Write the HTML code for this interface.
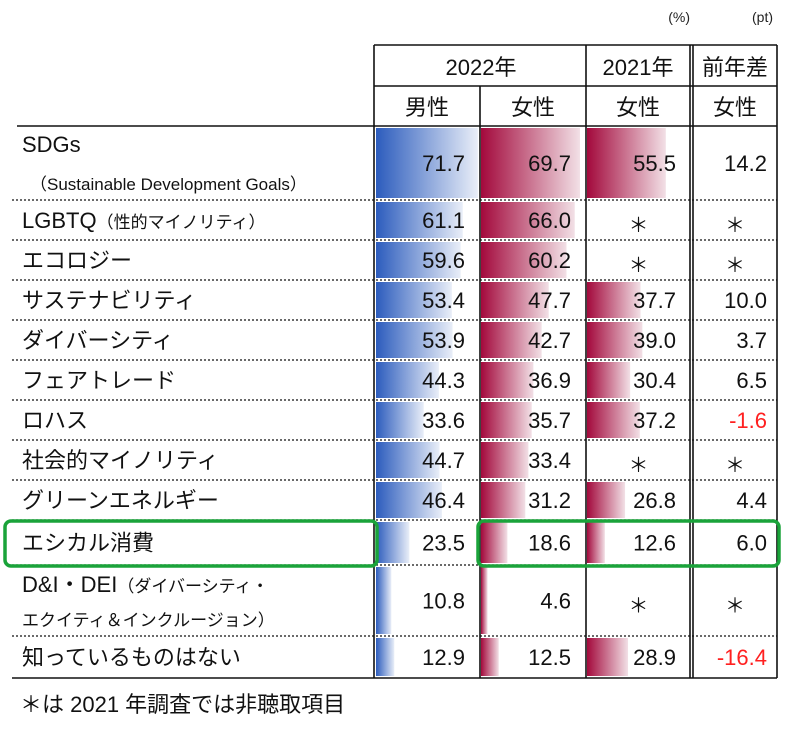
<!DOCTYPE html>
<html><head><meta charset="utf-8"><style>
html,body{margin:0;padding:0;background:#fff;width:800px;height:739px;overflow:hidden}
svg{display:block;font-family:"Liberation Sans","Noto Sans CJK JP",sans-serif}
</style></head><body>
<svg id="chart" width="800" height="739" viewBox="0 0 800 739" xmlns="http://www.w3.org/2000/svg">
<defs>
<linearGradient id="gb" x1="0" x2="1" y1="0" y2="0"><stop offset="0" stop-color="#2c5cbd"/><stop offset="1" stop-color="#e9eef8"/></linearGradient>
<linearGradient id="gr" x1="0" x2="1" y1="0" y2="0"><stop offset="0" stop-color="#a3093c"/><stop offset="1" stop-color="#f2e0e6"/></linearGradient>
</defs>
<text x="690" y="22" font-size="14" text-anchor="end" fill="#222">(%)</text>
<text x="773" y="22" font-size="14" text-anchor="end" fill="#222">(pt)</text>
<g id="grid"></g>
<g id="body"></g>
<rect x="5" y="521" width="372" height="45" rx="6" fill="none" stroke="#1aa33a" stroke-width="3.5"/>
<rect x="478" y="521" width="301" height="45" rx="6" fill="none" stroke="#1aa33a" stroke-width="3.5"/>
<text x="20" y="712" font-size="22" fill="#111">＊は 2021 年調査では非聴取項目</text>
</svg>
<script>
const categories=["SDGs","LGBTQ","エコロジー","サステナビリティ","ダイバーシティ","フェアトレード","ロハス","社会的マイノリティ","グリーンエネルギー","エシカル消費","D&I・DEI","知っているものはない"];
const subLabels=["（Sustainable Development Goals）","（性的マイノリティ）","","","","","","","","","（ダイバーシティ・",""];
const male2022=[71.7,61.1,59.6,53.4,53.9,44.3,33.6,44.7,46.4,23.5,10.8,12.9];
const female2022=[69.7,66.0,60.2,47.7,42.7,36.9,35.7,33.4,31.2,18.6,4.6,12.5];
const female2021=[55.5,null,null,37.7,39.0,30.4,37.2,null,26.8,12.6,null,28.9];
const diff=[14.2,null,null,10.0,3.7,6.5,-1.6,null,4.4,6.0,null,-16.4];
const rowTops=[126,200,240,280,320,360,400,440,480,520,565,636,678];
const NS="http://www.w3.org/2000/svg";
const grid=document.getElementById('grid');
const body=document.getElementById('body');
function mk(tag,attrs,parent){const e=document.createElementNS(NS,tag);for(const k in attrs)e.setAttribute(k,attrs[k]);parent.appendChild(e);return e;}
const colL=[376,481,587,695], colR=[479,585,690,777];
const sx=v=>v*1.42;
function line(x1,y1,x2,y2,parent,dash){const l=mk('line',{x1,y1,x2,y2,stroke:'#111','stroke-width':1.6},parent);if(dash){l.setAttribute('stroke-dasharray','2 2');l.setAttribute('stroke-width','1.3');}return l;}
line(374,45,777,45,grid);line(374,86,777,86,grid);line(17,126,777,126,grid);line(12,678,777,678,grid);
[374,586,690,693,777].forEach(x=>line(x,45,x,678,grid));
line(480,86,480,678,grid);
for(let i=1;i<rowTops.length-1;i++)line(12,rowTops[i],777,rowTops[i],grid,true);
function txt(x,y,s,size,anchor,fill,name){const t=mk('text',{x,y,'font-size':size,'text-anchor':anchor||'start',fill:fill||'#111'},body);t.textContent=s;


return t;}
txt(481,75,"2022年",22,'middle','#111','header-2022');
txt(638,75,"2021年",22,'middle','#111','header-2021');
txt(735,75,"前年差",22,'middle','#111','header-diff');
txt(427,115,"男性",22,'middle','#111','header-male-2022');
txt(533,115,"女性",22,'middle','#111','header-female-2022');
txt(638,115,"女性",22,'middle','#111','header-female-2021');
txt(735,115,"女性",22,'middle','#111','header-female-diff');
const series=[male2022,female2022,female2021];
const grads=['url(#gb)','url(#gr)','url(#gr)'];
const snames=['male-2022','female-2022','female-2021'];
categories.forEach((c,i)=>{
  const top=rowTops[i],bot=rowTops[i+1],mid=(top+bot)/2;
  if(i===0){txt(22,152,c,22,'start','#111','label-sdgs');txt(30,190,subLabels[i],17,'start','#111','sublabel-sdgs');}
  else if(i===10){const t=txt(22,592,"D&I・DEI",22,'start','#111','label-dei');const s=mk('tspan',{'font-size':17},t);s.textContent=subLabels[i];txt(22,626,"エクイティ＆インクルージョン）",17,'start','#111','sublabel-dei');}
  else{const t=txt(22,mid+8,c,22,'start','#111','label-row-'+i);if(subLabels[i]){const s=mk('tspan',{'font-size':17},t);s.textContent=subLabels[i];}}
  series.forEach((ser,k)=>{
    const v=ser[i];
    if(v===null){txt((colL[k]+colR[k])/2,mid+12,"＊",20,'middle','#111','na-'+snames[k]+'-'+i);return;}
    const r=mk('rect',{x:colL[k],y:top+2,width:sx(v),height:bot-top-4,fill:grads[k]},body);
    
    
    txt(colR[k]-14,mid+8,v.toFixed(1),22,'end','#111','value-'+snames[k]+'-'+i);
  });
  const d=diff[i];
  if(d===null)txt(735,mid+12,"＊",20,'middle','#111','na-diff-'+i);
  else txt(colR[3]-10,mid+8,d.toFixed(1),22,'end',d<0?'#ff2020':'#111','value-diff-'+i);
});
</script>
</body></html>
